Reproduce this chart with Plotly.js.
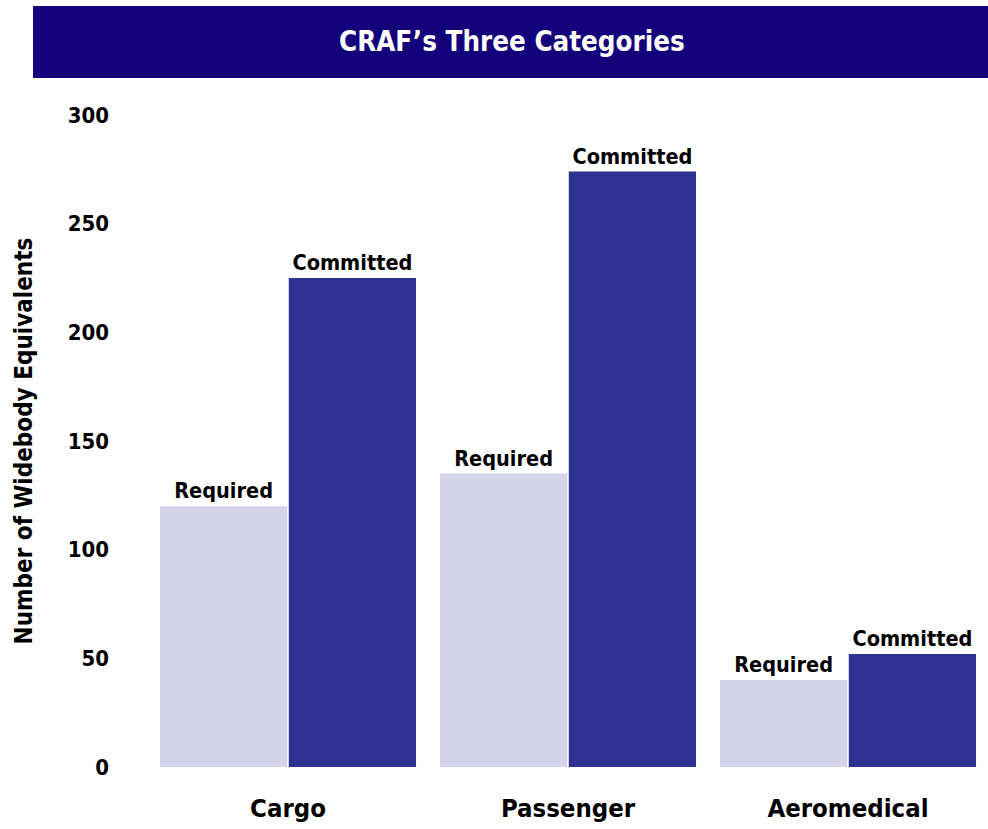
<!DOCTYPE html>
<html>
<head>
<meta charset="utf-8">
<script src="https://cdn.plot.ly/plotly-3.0.1.min.js"></script>
<style>html,body{margin:0;padding:0;background:#fff;}#chart{width:988px;height:829px;}</style>
</head>
<body>
<div id="chart"></div>
<script>
var categories = ["Cargo", "Passenger", "Aeromedical"];
var requiredValues = [120, 135, 40];
var committedValues = [225, 274, 52];
var seriesNames = ["Required", "Committed"];
var yTicks = [0, 50, 100, 150, 200, 250, 300];
var chartTitle = "CRAF\u2019s Three Categories";
var yTitle = "Number of Widebody Equivalents";

var FONT = "'DejaVu Sans Condensed', 'Liberation Sans Narrow', 'Arial Narrow', sans-serif";

var traces = [
  {
    type: "bar", name: seriesNames[0], x: categories, y: requiredValues,
    marker: {color: "#d4d3ea"},
    text: categories.map(function(){return "<b>" + seriesNames[0] + "</b>";}),
    textposition: "outside", cliponaxis: false, constraintext: "none",
    textfont: {family: FONT, size: 21.5, color: "#000"},
    hoverinfo: "x+y"
  },
  {
    type: "bar", name: seriesNames[1], x: categories, y: committedValues,
    marker: {color: "#2e3192"},
    text: categories.map(function(){return "<b>" + seriesNames[1] + "</b>";}),
    textposition: "outside", cliponaxis: false, constraintext: "none",
    textfont: {family: FONT, size: 21.5, color: "#000"},
    hoverinfo: "x+y"
  }
];

var layout = {
  width: 988, height: 829,
  margin: {l: 148, r: 0, t: 115, b: 62},
  paper_bgcolor: "#fff", plot_bgcolor: "#fff",
  showlegend: false,
  barmode: "group", bargap: 0.08, bargroupgap: 0.012,
  font: {family: FONT, color: "#000"},
  xaxis: {
    type: "category", showgrid: false, zeroline: false, showline: false,
    ticks: "", ticklabelstandoff: 23,
    tickfont: {family: FONT, size: 25.5, color: "#000", weight: "bold"}
  },
  yaxis: {
    range: [0, 300], tickvals: yTicks, showgrid: false, zeroline: false, showline: false,
    ticks: "", ticklabelstandoff: 38,
    tickfont: {family: FONT, size: 22, color: "#000", weight: "bold"},
    title: {text: "<b>" + yTitle + "</b>", font: {family: FONT, size: 24, color: "#000"}, standoff: 28},
    automargin: false
  },
  shapes: [{
    type: "rect", xref: "paper", yref: "paper",
    x0: -0.1369, x1: 1.01, y0: 1.0567, y1: 1.1672,
    fillcolor: "#14007a", line: {width: 0}, layer: "below"
  }],
  annotations: [{
    xref: "paper", yref: "paper", x: 0.4333, y: 1.1135,
    xanchor: "center", yanchor: "middle", showarrow: false,
    text: "<b>" + chartTitle + "</b>",
    font: {family: FONT, size: 27.5, color: "#fff"}
  }]
};

Plotly.newPlot("chart", traces, layout, {displayModeBar: false, staticPlot: true});
</script>
</body>
</html>
